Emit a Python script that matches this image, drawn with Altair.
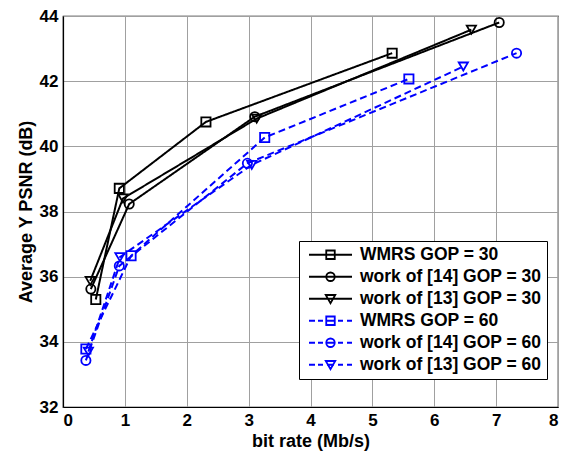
import altair as alt
import pandas as pd

# Rate–distortion curves: average luma PSNR versus bit rate
series_names = [
    "WMRS GOP = 30",
    "work of [14] GOP = 30",
    "work of [13] GOP = 30",
    "WMRS GOP = 60",
    "work of [14] GOP = 60",
    "work of [13] GOP = 60",
]
series_gop = ["30", "30", "30", "60", "60", "60"]
series_marker = ["square", "circle", "triangle-down"] * 2

rate_wmrs_30 = [0.53, 0.91, 2.31, 5.32]
psnr_wmrs_30 = [35.30, 38.71, 40.75, 42.86]

rate_w14_30 = [0.45, 1.07, 3.10, 7.05]
psnr_w14_30 = [35.62, 38.23, 40.91, 43.80]

rate_w13_30 = [0.44, 0.97, 3.13, 6.60]
psnr_w13_30 = [35.87, 38.40, 40.85, 43.58]

rate_wmrs_60 = [0.37, 1.10, 3.26, 5.59]
psnr_wmrs_60 = [33.78, 36.64, 40.27, 42.07]

rate_w14_60 = [0.37, 0.91, 2.98, 7.33]
psnr_w14_60 = [33.43, 36.33, 39.48, 42.86]

rate_w13_60 = [0.41, 0.92, 3.05, 6.47]
psnr_w13_60 = [33.70, 36.60, 39.43, 42.45]

x_ticks = [0, 1, 2, 3, 4, 5, 6, 7, 8]
y_ticks = [32, 34, 36, 38, 40, 42, 44]

all_rates = [rate_wmrs_30, rate_w14_30, rate_w13_30, rate_wmrs_60, rate_w14_60, rate_w13_60]
all_psnr = [psnr_wmrs_30, psnr_w14_30, psnr_w13_30, psnr_wmrs_60, psnr_w14_60, psnr_w13_60]

rows = []
for name, gop, marker, rates, psnrs in zip(
    series_names, series_gop, series_marker, all_rates, all_psnr
):
    for i, (r, p) in enumerate(zip(rates, psnrs)):
        rows.append(
            {"series": name, "gop": gop, "marker": marker, "rate": r, "psnr": p, "idx": i}
        )
df = pd.DataFrame(rows)

colors = ["#000000"] * 3 + ["#0000ff"] * 3

FONT = "Liberation Sans"

# Legend glyphs: a short line (solid or dashed) with the marker in the middle.
# Units are 5 px (symbolSize 100); x = 0 is the legend symbol anchor.
solid = "M-0.75,0H7.85"
dashed = "M-0.75,0H0.45M1.05,0H2.05M2.85,0H4.25M5.05,0H6.05M6.85,0H7.85"
sq = "M2.7,-0.85H4.4V0.85H2.7Z"
circ = "M4.4,0A0.85,0.85 0 1,1 2.7,0A0.85,0.85 0 1,1 4.4,0Z"
tri = "M2.6,-0.75H4.5L3.55,0.9Z"
glyphs = [solid + sq, solid + circ, solid + tri, dashed + sq, dashed + circ, dashed + tri]

x_enc = alt.X(
    "rate:Q",
    scale=alt.Scale(domain=[0, 8], nice=False, zero=False),
    axis=alt.Axis(
        title="bit rate (Mb/s)",
        values=x_ticks,
        format="d",
        titleY=34,
        titleBaseline="middle",
    ),
)
y_enc = alt.Y(
    "psnr:Q",
    scale=alt.Scale(domain=[32, 44], nice=False, zero=False),
    axis=alt.Axis(
        title="Average Y PSNR (dB)",
        values=y_ticks,
        format="d",
        titleX=-37,
        titleY=195.5,
        titleBaseline="middle",
    ),
)

legend = alt.Legend(
    title=None,
    orient="none",
    legendX=236,
    legendY=225,
    padding=5,
    rowPadding=3,
    symbolSize=100,
    symbolStrokeWidth=1.8,
    symbolFillColor="transparent",
    symbolOpacity=1,
    labelOffset=38.5,
    labelLimit=400,
    labelFont=FONT,
    labelFontSize=17.5,
    labelFontWeight="bold",
    labelColor="#000000",
    strokeColor="#000000",
    fillColor="#ffffff",
)

color_enc = alt.Color(
    "series:N",
    scale=alt.Scale(domain=series_names, range=colors),
    legend=legend,
)

base = alt.Chart(df)

lines = base.mark_line(strokeWidth=2, opacity=1).encode(
    x=x_enc,
    y=y_enc,
    color=color_enc,
    strokeDash=alt.StrokeDash(
        "gop:N",
        scale=alt.Scale(domain=["30", "60"], range=[[1, 0], [7, 4]]),
        legend=None,
    ),
    detail="series:N",
    order="idx:Q",
)

points = base.mark_point(filled=False, size=85, strokeWidth=1.8, opacity=1).encode(
    x=x_enc,
    y=y_enc,
    color=color_enc,
    shape=alt.Shape("marker:N", scale=None),
)

# Key entries: carries the line-and-marker glyph of each series into the legend
key = (
    base.mark_point(filled=False, strokeWidth=1.8, opacity=1)
    .encode(
        x=x_enc,
        y=y_enc,
        color=color_enc,
        shape=alt.Shape(
            "series:N", scale=alt.Scale(domain=series_names, range=glyphs), legend=legend
        ),
    )
    .transform_filter("false")
)

chart = (
    alt.layer(key, lines, points)
    .properties(
        width=495,
        height=391,
        autosize=alt.AutoSizeParams(type="none"),
        padding={"left": 63, "top": 16, "right": 13, "bottom": 48},
        background="#ffffff",
    )
    .configure_view(stroke="#000000", strokeWidth=1.2)
    .configure_axis(
        grid=True,
        gridColor="#a0a0a0",
        gridWidth=1,
        domain=True,
        domainColor="#000000",
        domainWidth=1.2,
        ticks=False,
        labelFont=FONT,
        labelFontSize=17,
        labelFontWeight="bold",
        labelColor="#000000",
        labelPadding=5,
        titleFont=FONT,
        titleFontSize=18,
        titleFontWeight="bold",
        titleColor="#000000",
    )
)

chart.save("out.html", embed_options={"renderer": "svg", "actions": False})
